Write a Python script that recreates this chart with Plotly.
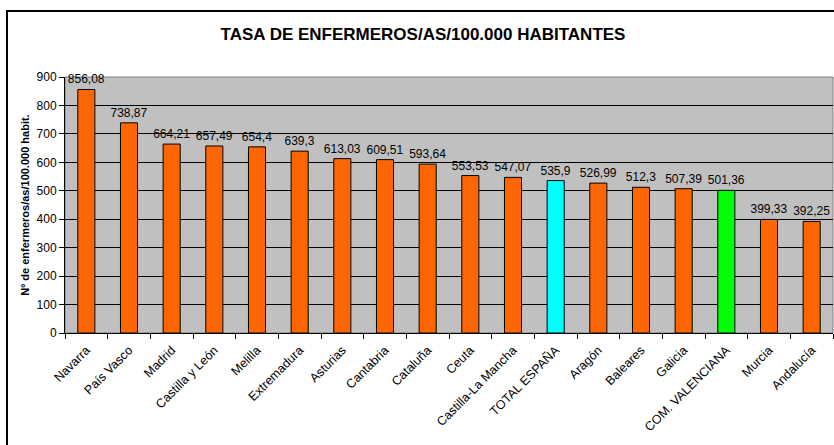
import plotly.graph_objects as go

categories = ["Navarra", "País Vasco", "Madrid", "Castilla y León", "Melilla", "Extremadura",
              "Asturias", "Cantabria", "Cataluña", "Ceuta", "Castilla-La Mancha", "TOTAL ESPAÑA",
              "Aragón", "Baleares", "Galicia", "COM. VALENCIANA", "Murcia", "Andalucía"]
values = [856.08, 738.87, 664.21, 657.49, 654.4, 639.3, 613.03, 609.51, 593.64, 553.53,
          547.07, 535.9, 526.99, 512.3, 507.39, 501.36, 399.33, 392.25]
labels = ["856,08", "738,87", "664,21", "657,49", "654,4", "639,3", "613,03", "609,51", "593,64",
          "553,53", "547,07", "535,9", "526,99", "512,3", "507,39", "501,36", "399,33", "392,25"]
highlight = {"TOTAL ESPAÑA": "#00FFFF", "COM. VALENCIANA": "#00FF00"}
colors = [highlight.get(c, "#FF6600") for c in categories]

W, H = 834, 445
ml, mr, mt, mb = 65, 1, 77, 112
pw, ph = W - ml - mr, H - mt - mb

fig = go.Figure(go.Bar(
    x=categories, y=values, text=labels, textposition="outside",
    textfont=dict(family="Liberation Sans, Arial", size=12, color="#000000"),
    marker=dict(color=colors, line=dict(color="#000000", width=1)),
    cliponaxis=False, hoverinfo="x+y",
))

fig.update_layout(
    width=W, height=H,
    margin=dict(l=ml, r=mr, t=mt, b=mb, pad=0, autoexpand=False),
    paper_bgcolor="#FFFFFF", plot_bgcolor="#C0C0C0",
    bargap=0.6, showlegend=False,
    uniformtext=dict(minsize=12, mode="show"),
    font=dict(family="Liberation Sans, Arial", size=12, color="#000000"),
    title=dict(text="<b>TASA DE ENFERMEROS/AS/100.000 HABITANTES</b>",
               x=(423 - 0) / W, xanchor="center", y=1 - 34 / H, yanchor="middle",
               font=dict(size=17, family="Liberation Sans, Arial", color="#000000")),
    xaxis=dict(type="category", tickangle=-45, ticks="outside", tickson="boundaries",
               ticklen=5, tickcolor="#000000", showline=True, linecolor="#000000",
               linewidth=1, tickfont=dict(size=12.5, family="Liberation Sans, Arial"),
               ticklabelstandoff=4,
               showgrid=False, fixedrange=True, automargin=False),
    yaxis=dict(range=[0, 900], dtick=100, ticks="outside", ticklen=5, tickcolor="#000000",
               showline=True, linecolor="#000000", linewidth=1, automargin=False,
               showgrid=True, gridcolor="#000000", gridwidth=1, zeroline=False,
               tickfont=dict(size=12, family="Liberation Sans, Arial"),
               title=dict(text="<b>Nº de enfermeros/as/100.000 habit.</b>",
                          font=dict(size=11, family="Liberation Sans, Arial"), standoff=4)),
    shapes=[
        dict(type="rect", xref="paper", yref="paper", x0=0, x1=1, y0=0, y1=1,
             line=dict(color="#808080", width=1), layer="below"),
        dict(type="rect", xref="paper", yref="paper",
             x0=(7 - ml) / pw, x1=(W + 5 - ml) / pw,
             y0=-(H + 5 - mt - ph) / ph, y1=1 + (mt - 11) / ph,
             line=dict(color="#000000", width=2)),
    ],
)

fig.write_html("out.html", config={"displayModeBar": False},
               post_script="document.body.style.margin='0';document.body.style.overflow='hidden';")
